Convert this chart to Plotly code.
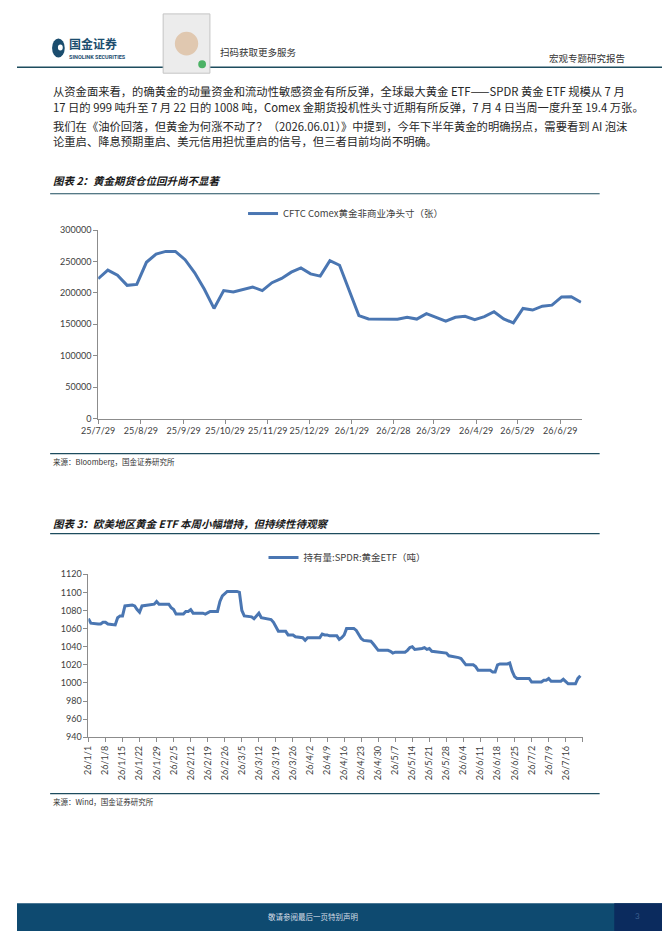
import pandas as pd
import plotly.graph_objects as go

# ---- data: CFTC Comex gold non-commercial net position (weekly, contracts)
cftc_start = "2025-07-29"
cftc_net = [
    222500, 236200, 228300, 212000, 213500, 248700, 261800, 266000, 266000, 252800,
    231900, 205700, 175300, 203600, 201500, 205700, 209400, 203600, 216200, 223000,
    233000, 239800, 230300, 226700, 251300, 244000, 204100, 163800, 158500, 158300,
    157000, 158000, 161200, 158300, 166900, 161200, 154900, 161200, 162700, 157500,
    162300, 170100, 158500, 152200, 175300, 172700, 178900, 180500, 193500, 194000,
    185200,
]
cftc_ticks = ["2025-07-29", "2025-08-29", "2025-09-29", "2025-10-29", "2025-11-29",
              "2025-12-29", "2026-01-29", "2026-02-28", "2026-03-29", "2026-04-29",
              "2026-05-29", "2026-06-29"]
cftc_ticktext = ["25/7/29", "25/8/29", "25/9/29", "25/10/29", "25/11/29", "25/12/29",
                 "26/1/29", "26/2/28", "26/3/29", "26/4/29", "26/5/29", "26/6/29"]

# ---- data: SPDR gold ETF holdings (business days, tonnes)
spdr_start = "2026-01-01"
spdr_end = "2026-07-22"
spdr_tonnes = [
    1071, 1066,
    1065, 1065, 1067, 1067, 1065,
    1064, 1072, 1074, 1074, 1085,
    1086, 1085, 1081, 1078, 1085,
    1086, 1086, 1087, 1090, 1087,
    1087, 1087, 1083, 1081, 1076,
    1076, 1079, 1079, 1081, 1077,
    1077, 1077, 1076, 1078, 1079,
    1079, 1090, 1096, 1098, 1101,
    1101, 1101, 1100, 1080, 1074,
    1073, 1071, 1074, 1077, 1072,
    1071, 1070, 1067, 1062, 1057,
    1057, 1053, 1053, 1053, 1051,
    1050, 1047, 1050, 1050, 1050,
    1050, 1054, 1053, 1053, 1052,
    1052, 1048, 1050, 1053, 1060,
    1060, 1058, 1053, 1049, 1047,
    1046, 1043, 1039, 1036, 1036,
    1036, 1035, 1033, 1034, 1034,
    1034, 1036, 1039, 1040, 1037,
    1038, 1039, 1037, 1038, 1035,
    1034, 1034, 1034, 1033, 1030,
    1029, 1028, 1027, 1024, 1020,
    1020, 1018, 1014, 1014, 1014,
    1014, 1012, 1012, 1020, 1021,
    1021, 1022, 1013, 1007, 1005,
    1005, 1005, 1005, 1001, 1001,
    1001, 1003, 1003, 1005, 1002,
    1002, 1002, 1004, 1001, 999,
    999, 1005, 1008,
]

W, H = 662, 936
NAVY = "#1d4c5e"
LINE = "#4a76b2"
TXT = "#262626"
TICK = "#404040"
CJK = "Noto Sans CJK SC"


def px(x):
    return x / W


def py(y):
    return 1 - y / H


cftc_dates = pd.date_range(cftc_start, periods=len(cftc_net), freq="7D")
spdr_dates = pd.bdate_range(spdr_start, spdr_end)
spdr_ticks = pd.date_range(spdr_start, "2026-07-23", freq="7D")
spdr_ticktext = [f"{d.year % 100}/{d.month}/{d.day}" for d in spdr_ticks[:-1]] + [""]

fig = go.Figure()

fig.add_trace(go.Scatter(
    x=cftc_dates, y=cftc_net, mode="lines", name="CFTC Comex黄金非商业净头寸（张）",
    line=dict(color=LINE, width=3), xaxis="x", yaxis="y", legend="legend",
    showlegend=True,
))
fig.add_trace(go.Scatter(
    x=spdr_dates, y=spdr_tonnes, mode="lines", name="持有量:SPDR:黄金ETF（吨）",
    line=dict(color=LINE, width=3), xaxis="x2", yaxis="y2", legend="legend2",
    showlegend=True,
))

axis_style = dict(showgrid=False, zeroline=False, showline=True, linecolor="#8c8c8c",
                  linewidth=1, ticks="outside", ticklen=4, tickcolor="#8c8c8c",
                  tickfont=dict(family="Lato", size=9, color=TICK))

fig.update_layout(
    width=W, height=H,
    margin=dict(l=0, r=0, t=0, b=0),
    paper_bgcolor="white", plot_bgcolor="white",
    font=dict(family=CJK, color=TXT),
    showlegend=True,
    xaxis=dict(domain=[px(83.3), px(579.5)], anchor="y", type="date",
               range=["2025-07-29", "2026-07-14 12:00"], tickangle=0,
               tickvals=cftc_ticks, ticktext=cftc_ticktext, **axis_style),
    yaxis=dict(domain=[py(417.5), py(226.7)], anchor="x", range=[0, 300000],
               tickvals=[0, 50000, 100000, 150000, 200000, 250000, 300000],
               tickformat="d", **axis_style),
    xaxis2=dict(domain=[px(73.3), px(580.7)], anchor="y2", type="date",
                range=["2026-01-01", "2026-07-23"], tickangle=-90,
                tickvals=spdr_ticks, ticktext=spdr_ticktext, **axis_style),
    yaxis2=dict(domain=[py(740), py(575)], anchor="x2", range=[940, 1120],
                tickvals=list(range(940, 1121, 20)), **axis_style),
    legend=dict(x=px(232), y=py(210), xanchor="left", yanchor="middle",
                bgcolor="rgba(0,0,0,0)", itemwidth=30, visible=True,
                font=dict(family=CJK, size=9.5, color=TICK)),
    legend2=dict(x=px(253), y=py(558), xanchor="left", yanchor="middle",
                 bgcolor="rgba(0,0,0,0)", itemwidth=30, visible=True,
                 font=dict(family=CJK, size=9.5, color=TICK)),
)

shapes = []
# header rule and logo
shapes.append(dict(type="line", xref="paper", yref="paper", x0=0, x1=1, y0=py(62), y1=py(62),
                   line=dict(color=NAVY, width=1.5)))
shapes.append(dict(type="circle", xref="paper", yref="paper", x0=px(36), x1=px(49),
                   y0=py(52), y1=py(33), fillcolor="#1b4d6e", line=dict(width=0)))
shapes.append(dict(type="circle", xref="paper", yref="paper", x0=px(42), x1=px(47),
                   y0=py(45), y1=py(39), fillcolor="white", line=dict(width=0)))
# QR code placeholder
shapes.append(dict(type="rect", xref="paper", yref="paper", x0=px(150), x1=px(198),
                   y0=py(68), y1=py(8), fillcolor="#ececec", line=dict(color="#c4c4c4", width=1)))
shapes.append(dict(type="circle", xref="paper", yref="paper", x0=px(162), x1=px(186),
                   y0=py(50), y1=py(26), fillcolor="#e0c8b0", line=dict(width=0)))
shapes.append(dict(type="circle", xref="paper", yref="paper", x0=px(186), x1=px(194),
                   y0=py(63), y1=py(55), fillcolor="#4cb265", line=dict(width=0)))
# chart rules
for yy in (190, 453, 534, 797):
    shapes.append(dict(type="line", xref="paper", yref="paper", x0=px(34), x1=px(598),
                       y0=py(yy), y1=py(yy), line=dict(color=NAVY, width=1.2)))
# footer
shapes.append(dict(type="rect", xref="paper", yref="paper", x0=0, x1=1, y0=0, y1=py(908),
                   fillcolor="#0e4a70", line=dict(width=0)))
shapes.append(dict(type="rect", xref="paper", yref="paper", x0=px(613), x1=1, y0=0, y1=py(908),
                   fillcolor="#0b2b5e", line=dict(width=0)))
fig.update_layout(shapes=shapes)


def note(text, x, y, size, anchor="left", color=TXT, family=CJK):
    fig.add_annotation(text=text, x=px(x), y=py(y), xref="paper", yref="paper",
                       xanchor=anchor, yanchor="middle", showarrow=False,
                       font=dict(family=family, size=size, color=color))


note("<b>国金证券</b>", 51, 38, 12, color="#1b4d6e")
note("<b>SINOLINK SECURITIES</b>", 51, 52, 5.5, color="#1b4d6e", family="Roboto")
note("扫码获取更多服务", 206, 47, 9.5, color="#333333")
note("宏观专题研究报告", 626, 53, 9.5, anchor="right", color="#333333")

body = [
    ("从资金面来看，的确黄金的动量资金和流动性敏感资金有所反弹，全球最大黄金 ETF——SPDR 黄金 ETF 规模从 7 月", 86),
    ("17 日的 999 吨升至 7 月 22 日的 1008 吨，Comex 金期货投机性头寸近期有所反弹，7 月 4 日当周一度升至 19.4 万张。", 102),
    ("我们在《油价回落，但黄金为何涨不动了？（2026.06.01）》中提到，今年下半年黄金的明确拐点，需要看到 AI 泡沫", 121),
    ("论重启、降息预期重启、美元信用担忧重启的信号，但三者目前均尚不明确。", 137),
]
for line_text, yy in body:
    note(line_text, 35, yy, 11.3)

note("<b><i>图表 2：黄金期货仓位回升尚不显著</i></b>", 35, 177, 10.5, color="#1a1a1a")
note("来源：Bloomberg，国金证券研究所", 35, 461, 7.5, color="#333333")
note("<b><i>图表 3：欧美地区黄金 ETF 本周小幅增持，但持续性待观察</i></b>", 35, 524, 10.5, color="#1a1a1a")
note("来源：Wind，国金证券研究所", 35, 805, 7.5, color="#333333")
note("敬请参阅最后一页特别声明", 304, 921, 7.5, anchor="center", color="#d5dde6")
note("3", 637, 921, 8, anchor="center", color="#3d5f8f", family="Lato")

# the page body has a default 8px margin; drop it so the figure fills the window
fig.write_html("out.html", config={"displayModeBar": False},
               post_script="document.body.style.margin = '0';")
